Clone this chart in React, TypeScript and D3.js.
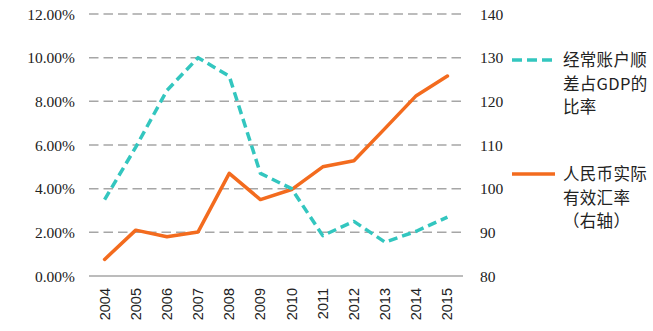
import React from "react";
import * as d3 from "d3";

const years = ["2004","2005","2006","2007","2008","2009","2010","2011","2012","2013","2014","2015"];
const currentAccount = [3.5, 5.9, 8.5, 10.0, 9.15, 4.7, 4.0, 1.85, 2.5, 1.55, 2.05, 2.7];
const reer = [83.8, 90.5, 89.0, 90.1, 103.5, 97.5, 99.8, 105.0, 106.4, 113.8, 121.3, 125.8];
const leftTicks = [0, 2, 4, 6, 8, 10, 12];
const rightTicks = [80, 90, 100, 110, 120, 130, 140];
const legend1 = ["经常账户顺", "差占GDP的", "比率"];
const legend2 = ["人民币实际", "有效汇率", "（右轴）"];

const TEAL = "#33C6BF";
const ORANGE = "#F36B1E";

export default function App() {
  const W = 653, H = 331;
  const x = d3.scalePoint<string>().domain(years).range([89, 463]).padding(0.5);
  const yL = d3.scaleLinear().domain([0, 12]).range([276, 14]);
  const yR = d3.scaleLinear().domain([80, 140]).range([276, 14]);
  const lineL = d3.line<number>().x((_, i) => x(years[i])!).y(d => yL(d));
  const lineR = d3.line<number>().x((_, i) => x(years[i])!).y(d => yR(d));
  const serif = "'Liberation Serif', 'Times New Roman', serif";
  const cjk = "'Noto Sans CJK SC', sans-serif";
  return (
    <svg width={W} height={H} style={{ position: "absolute", left: 0, top: 0, background: "#fff" }}>
      {leftTicks.filter(t => t > 0).map(t => (
        <line key={t} x1={89} x2={463} y1={yL(t)} y2={yL(t)} stroke="#A6A6A6" strokeWidth={1.5} strokeDasharray="9.5,5" />
      ))}
      <line x1={89} x2={463} y1={yL(0)} y2={yL(0)} stroke="#A6A6A6" strokeWidth={1.5} />
      {leftTicks.map(t => (
        <text key={t} x={75} y={yL(t) + 5.5} textAnchor="end" fontFamily={serif} fontSize={15.5} fill="#222">
          {t.toFixed(2)}%
        </text>
      ))}
      {rightTicks.map(t => (
        <text key={t} x={480} y={yR(t) + 5.5} textAnchor="start" fontFamily={serif} fontSize={15.5} fill="#222">
          {t}
        </text>
      ))}
      {years.map(yr => (
        <text key={yr} transform={`translate(${x(yr)! + 5},288) rotate(-90)`} textAnchor="end"
          fontFamily="'Liberation Sans', Arial, sans-serif" fontSize={14.5} fill="#222">
          {yr}
        </text>
      ))}
      <path d={lineR(reer)!} fill="none" stroke={ORANGE} strokeWidth={3.5} strokeLinejoin="round" strokeLinecap="round" />
      <path d={lineL(currentAccount)!} fill="none" stroke={TEAL} strokeWidth={3.5} strokeDasharray="9,5" strokeLinejoin="round" />
      <line x1={512} x2={553} y1={60} y2={60} stroke={TEAL} strokeWidth={3.5} strokeDasharray="10,5" />
      {legend1.map((s, i) => (
        <text key={s} x={563} y={60 + i * 23.5 + 6} fontFamily={cjk} fontSize={16.5} fill="#222" letterSpacing={0.3}>{s}</text>
      ))}
      <line x1={512} x2={555} y1={174} y2={174} stroke={ORANGE} strokeWidth={3.5} />
      {legend2.map((s, i) => (
        <text key={s} x={563} y={174 + i * 23.5 + 6} fontFamily={cjk} fontSize={16.5} fill="#222" letterSpacing={0.3}>{s}</text>
      ))}
    </svg>
  );
}
